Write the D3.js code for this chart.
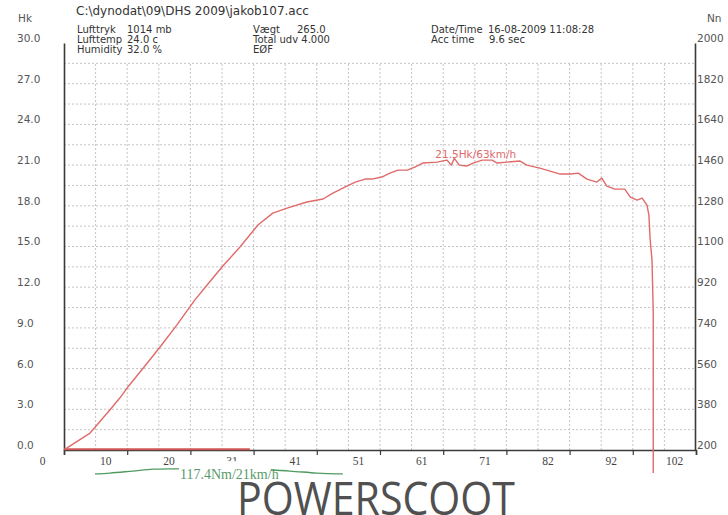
<!DOCTYPE html>
<html>
<head>
<meta charset="utf-8">
<script src="https://cdn.jsdelivr.net/npm/d3@7"></script>
<style>
  html, body { margin: 0; padding: 0; background: #ffffff; }
  svg { display: block; }
</style>
</head>
<body>
<svg id="chart" width="728" height="515"></svg>
<script>
// ---------- DATA ----------
const hkTicks = [0, 3, 6, 9, 12, 15, 18, 21, 24, 27, 30];
const hkLabels = ["0.0","3.0","6.0","9.0","12.0","15.0","18.0","21.0","24.0","27.0","30.0"];
const nmTicks = [200, 380, 560, 740, 920, 1100, 1280, 1460, 1640, 1820, 2000];
const speedTicks = [0, 10.2, 20.4, 30.6, 40.8, 51, 61.2, 71.4, 81.6, 91.8, 102];
const speedLabels = ["0","10","20","31","41","51","61","71","82","92","102"];

// power curve (Hk vs km/h)
const powerSpeed = [0.3, 4.2, 7.4, 9.0, 10.3, 12.8, 15.5, 18.2, 21.1, 23.1, 25.5, 28.4, 31.3, 33.7, 36.0, 39.2, 41.8, 43.4, 45.0, 47.0, 48.6, 49.7, 51.3, 52.6, 53.9, 55.4, 56.6, 57.9, 60.2, 61.8, 62.5, 63.0, 63.8, 65.0, 66.0, 67.5, 69.1, 69.9, 71.5, 73.6, 74.7, 76.8, 80.1, 81.7, 83.0, 84.4, 86.0, 86.8, 87.6, 88.9, 90.5, 91.4, 92.5, 93.3, 94.1, 94.4, 94.6, 94.9, 95.1, 95.1, 95.1];
const powerHk = [0.1, 1.25, 2.95, 3.83, 4.64, 6.04, 7.59, 9.21, 11.05, 12.16, 13.49, 14.96, 16.58, 17.46, 17.83, 18.28, 18.50, 18.94, 19.31, 19.75, 19.97, 19.97, 20.12, 20.41, 20.63, 20.63, 20.85, 21.15, 21.22, 21.37, 21.0, 21.5, 21.0, 20.93, 21.15, 21.37, 21.37, 21.15, 21.22, 21.30, 21.0, 20.78, 20.34, 20.34, 20.41, 19.97, 19.75, 20.04, 19.45, 19.23, 19.23, 18.64, 18.42, 18.57, 18.05, 17.3, 15.5, 14.0, 10.1, 0.2, -1.7];

// torque curve (Nm vs km/h), drawn on right-hand scale
const torqueSpeed = [5.0, 7.4, 11.1, 14.4, 17.6, 21.0, 25.0, 33.2, 36.5, 40.8, 45.0];
const torqueNm = [94, 98, 107, 115, 116.5, 117.4, 116.5, 111.5, 107, 98, 94];

// trace along the base line
const baseSpeed = [0, 30];
const baseHk = [0.06, 0.06];

const peakPower = { speed: 63, hk: 21.5, label: "21.5Hk/63km/h" };
const peakTorque = { speed: 21, nm: 117.4, label: "117.4Nm/21km/h" };

const headerFile = "C:\\dynodat\\09\\DHS 2009\\jakob107.acc";
const headerCol1 = [["Lufttryk", "1014 mb"], ["Lufttemp", "24.0 c"], ["Humidity", "32.0 %"]];
const headerCol2 = [["Vægt", "265.0"], ["Total udv 4.000", ""], ["EØF", ""]];
const headerCol3 = [["Date/Time", "16-08-2009 11:08:28"], ["Acc time", "9.6 sec"]];

// ---------- LAYOUT ----------
const svg = d3.select("#chart");
const X0 = 64, X1 = 696, Y0 = 450, Y1 = 43;
const x = d3.scaleLinear().domain([0, 102]).range([X0, X1]);
const y = d3.scaleLinear().domain([0, 30]).range([Y0, Y1]);
const yR = d3.scaleLinear().domain([200, 2000]).range([Y0, Y1]);

const sans = "'DejaVu Sans', Verdana, sans-serif";
const serif = "'Liberation Serif', 'Times New Roman', serif";

svg.append("rect").attr("width", 728).attr("height", 515).attr("fill", "#fff");

// grid (half-step)
const grid = svg.append("g").attr("stroke", "#c4c4c4").attr("stroke-width", 1).attr("stroke-dasharray", "2,2");
d3.range(1, 20).forEach(i => {
  const h = i * 1.5;
  grid.append("line").attr("x1", X0).attr("x2", X1).attr("y1", y(h)).attr("y2", y(h));
});
d3.range(1, 20).forEach(i => {
  const s = i * 5.1;
  grid.append("line").attr("x1", x(s)).attr("x2", x(s)).attr("y1", Y0).attr("y2", y(28.5));
});

// axes
const axB = d3.axisBottom(x).tickValues(speedTicks).tickSize(5).tickFormat((d, i) => speedLabels[i]);
const gB = svg.append("g").attr("transform", `translate(0,${Y0})`).call(axB);
gB.select(".domain").attr("stroke", "#3a3a3a").attr("stroke-width", 1.6);
gB.selectAll(".tick line").attr("stroke", "#3a3a3a").attr("stroke-width", 1.2);
gB.selectAll(".tick text").attr("font-family", serif).attr("font-size", 11.5).attr("fill", "#444")
  .attr("dx", -22).attr("y", 15).attr("dy", 0);

const axL = d3.axisLeft(y).tickValues(hkTicks).tickSize(0).tickFormat((d, i) => hkLabels[i]);
const gL = svg.append("g").attr("transform", `translate(${X0},0)`).call(axL);
gL.select(".domain").attr("stroke", "#3a3a3a").attr("stroke-width", 1.6);
gL.selectAll(".tick text").attr("font-family", sans).attr("font-size", 10.5).attr("fill", "#555")
  .attr("text-anchor", "start").attr("x", 17 - X0).attr("dy", "-0.15em");

const axR = d3.axisRight(yR).tickValues(nmTicks).tickSize(0).tickFormat(d3.format("d"));
const gR = svg.append("g").attr("transform", `translate(${X1 - 1},0)`).call(axR);
gR.select(".domain").attr("stroke", "#3a3a3a").attr("stroke-width", 1.6);
gR.selectAll(".tick text").attr("font-family", sans).attr("font-size", 10.5).attr("fill", "#555")
  .attr("x", 2).attr("dy", "-0.15em");

// axis titles
svg.append("text").attr("x", 18).attr("y", 22).text("Hk")
  .attr("font-family", sans).attr("font-size", 10.5).attr("fill", "#555");
svg.append("text").attr("x", 707).attr("y", 22).text("Nn")
  .attr("font-family", sans).attr("font-size", 10.5).attr("fill", "#555");

// header
const hdr = svg.append("g").attr("font-family", sans).attr("font-size", 10).attr("fill", "#333");
hdr.append("text").attr("x", 76).attr("y", 15).attr("font-size", 12).text(headerFile);
headerCol1.forEach((r, i) => {
  hdr.append("text").attr("x", 77).attr("y", 33 + i * 10).text(r[0]);
  hdr.append("text").attr("x", 127).attr("y", 33 + i * 10).text(r[1]);
});
headerCol2.forEach((r, i) => {
  hdr.append("text").attr("x", 253).attr("y", 33 + i * 10).text(r[0]);
  if (r[1]) hdr.append("text").attr("x", 297).attr("y", 33 + i * 10).text(r[1]);
});
headerCol3.forEach((r, i) => {
  hdr.append("text").attr("x", 431).attr("y", 33 + i * 10).text(r[0]);
  hdr.append("text").attr("x", i === 0 ? 488 : 489).attr("y", 33 + i * 10).text(r[1]);
});

// base trace
svg.append("path")
  .datum(baseSpeed.map((s, i) => [s, baseHk[i]]))
  .attr("d", d3.line().x(d => x(d[0])).y(d => y(d[1])))
  .attr("fill", "none").attr("stroke", "#d05858").attr("stroke-width", 2);

// power curve
svg.append("path")
  .datum(powerSpeed.map((s, i) => [s, powerHk[i]]))
  .attr("d", d3.line().x(d => x(d[0])).y(d => y(d[1])))
  .attr("fill", "none").attr("stroke", "#e06a6a").attr("stroke-width", 1.4).attr("stroke-linejoin", "round");

svg.append("text").attr("x", x(peakPower.speed) - 19).attr("y", y(peakPower.hk) - 0.5)
  .text(peakPower.label).attr("font-family", sans).attr("font-size", 10.5).attr("fill", "#e06a6a");

// torque curve
svg.append("path")
  .datum(torqueSpeed.map((s, i) => [s, torqueNm[i]]))
  .attr("d", d3.line().curve(d3.curveMonotoneX).x(d => x(d[0])).y(d => yR(d[1])))
  .attr("fill", "none").attr("stroke", "#4f9a60").attr("stroke-width", 1.3);

svg.append("rect").attr("x", 179).attr("y", yR(peakTorque.nm) - 7.5).attr("width", 92).attr("height", 19).attr("fill", "#fff");
svg.append("text").attr("x", 180).attr("y", yR(peakTorque.nm) + 10)
  .text(peakTorque.label).attr("font-family", serif).attr("font-size", 14).attr("fill", "#5a9a6a");

// brand
svg.append("text").attr("x", 237).attr("y", 515).text("POWERSCOOT")
  .attr("font-family", "'Open Sans', 'DejaVu Sans', sans-serif").attr("font-weight", 400)
  .attr("font-size", 46).attr("fill", "#505050")
  .attr("textLength", 278).attr("lengthAdjust", "spacingAndGlyphs");
</script>
</body>
</html>
